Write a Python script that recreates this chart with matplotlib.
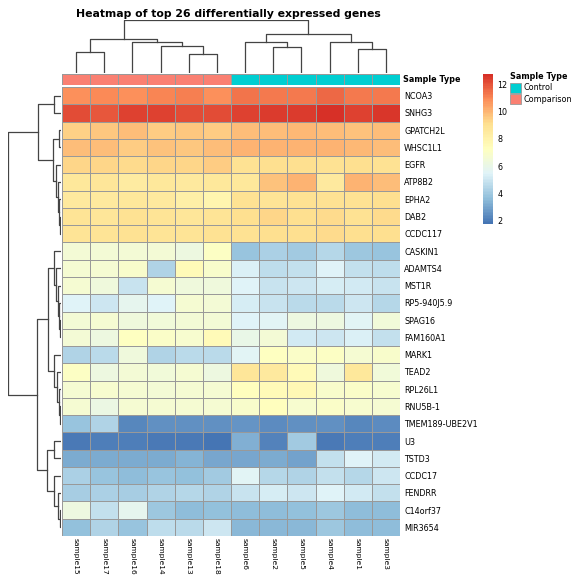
import numpy as np
import matplotlib
matplotlib.use("Agg")
import matplotlib.pyplot as plt
from matplotlib.colors import LinearSegmentedColormap, ListedColormap
from matplotlib.patches import Rectangle

W, H = 574, 578

genes = ["NCOA3", "SNHG3", "GPATCH2L", "WHSC1L1", "EGFR", "ATP8B2", "EPHA2", "DAB2",
         "CCDC117", "CASKIN1", "ADAMTS4", "MST1R", "RP5-940J5.9", "SPAG16", "FAM160A1",
         "MARK1", "TEAD2", "RPL26L1", "RNU5B-1", "TMEM189-UBE2V1", "U3", "TSTD3",
         "CCDC17", "FENDRR", "C14orf37", "MIR3654"]
samples = ["sample15", "sample17", "sample16", "sample14", "sample13", "sample18",
           "sample6", "sample2", "sample5", "sample4", "sample1", "sample3"]
sample_type = ["Comparison"] * 6 + ["Control"] * 6

expr = np.array([
    [10.8, 10.9, 10.8, 11.0, 11.1, 10.8, 11.4, 11.2, 11.2, 11.6, 11.3, 11.3],
    [12.1, 11.9, 12.3, 12.3, 12.1, 12.1, 12.4, 12.5, 12.5, 12.73, 12.4, 12.6],
    [9.4, 9.6, 9.8, 9.5, 9.6, 9.5, 9.8, 9.8, 9.9, 9.8, 9.7, 9.8],
    [9.8, 9.8, 9.5, 9.7, 9.6, 9.8, 10.1, 10.0, 10.1, 10.0, 9.9, 9.8],
    [9.3, 9.3, 9.2, 9.3, 9.3, 9.5, 9.0, 9.1, 9.1, 9.0, 9.1, 9.0],
    [8.6, 8.7, 8.4, 8.6, 8.5, 8.6, 8.6, 9.7, 10.1, 8.5, 10.0, 9.8],
    [8.5, 8.5, 8.6, 8.5, 8.2, 7.9, 9.0, 8.8, 8.9, 9.0, 8.9, 9.1],
    [8.8, 8.7, 8.9, 8.8, 8.7, 8.8, 9.1, 9.3, 9.1, 9.2, 9.0, 9.2],
    [8.8, 8.8, 8.9, 8.8, 8.8, 8.9, 9.0, 9.1, 9.1, 9.2, 9.1, 9.1],
    [6.5, 6.5, 6.5, 6.5, 6.2, 7.1, 3.8, 4.2, 4.0, 4.5, 3.9, 3.8],
    [6.6, 6.6, 6.9, 4.4, 7.5, 6.9, 5.3, 4.7, 4.8, 5.4, 4.8, 4.7],
    [6.7, 6.3, 4.9, 6.7, 6.3, 6.3, 5.4, 4.9, 5.0, 5.2, 5.1, 4.9],
    [5.5, 5.0, 5.8, 5.5, 6.6, 6.5, 5.2, 4.9, 4.6, 4.6, 5.0, 4.5],
    [6.5, 6.6, 6.3, 6.4, 6.5, 6.5, 5.4, 5.6, 6.2, 6.2, 5.6, 6.4],
    [6.5, 6.2, 7.2, 7.0, 6.8, 7.5, 6.0, 6.5, 5.1, 5.0, 5.3, 4.8],
    [4.4, 4.6, 6.3, 4.3, 4.6, 4.6, 5.6, 7.2, 7.0, 7.1, 6.7, 6.9],
    [7.1, 6.2, 6.5, 6.4, 6.6, 6.2, 8.7, 8.5, 7.5, 6.3, 8.6, 6.4],
    [6.6, 6.8, 6.7, 6.5, 6.7, 6.7, 7.3, 7.5, 7.6, 6.9, 7.0, 6.8],
    [6.7, 6.1, 6.7, 6.7, 6.7, 6.6, 6.9, 7.3, 6.8, 7.0, 6.8, 6.6],
    [3.8, 4.3, 2.3, 2.5, 2.5, 2.5, 2.6, 2.4, 2.5, 2.5, 2.3, 2.4],
    [1.9, 2.1, 2.0, 1.9, 1.9, 1.78, 3.3, 2.2, 4.0, 1.9, 2.0, 2.0],
    [3.1, 3.1, 3.1, 3.2, 3.4, 3.0, 3.0, 3.2, 2.9, 4.8, 5.5, 5.1],
    [4.2, 3.8, 3.6, 3.8, 3.7, 4.0, 5.6, 4.5, 4.4, 4.8, 4.5, 5.0],
    [4.1, 4.2, 4.1, 4.4, 4.5, 4.3, 4.9, 5.2, 5.0, 5.4, 5.1, 4.8],
    [6.2, 4.8, 5.8, 3.9, 3.6, 3.7, 3.6, 3.6, 3.7, 3.9, 3.6, 3.6],
    [3.7, 4.3, 3.8, 4.7, 4.6, 5.0, 3.5, 3.5, 3.5, 3.9, 3.6, 3.6],
])

# merges: (left, right, height); leaves are display positions, new clusters get n, n+1, ...
row_merges = [
    (0, 1, 7), (2, 3, 2), (7, 8, 1.5), (6, 28, 2.5), (5, 29, 3.5), (4, 30, 5),
    (27, 31, 8), (26, 32, 22.7),
    (13, 14, 1), (12, 34, 2), (11, 35, 3.5), (10, 36, 5), (9, 37, 7),
    (18, 19, 1.5), (17, 39, 2.5), (16, 40, 4), (15, 41, 7), (38, 42, 12.7),
    (20, 21, 7), (24, 25, 1.5), (23, 45, 3), (22, 46, 7), (44, 47, 13.7),
    (43, 48, 23.7), (33, 49, 53),
]
col_merges = [
    (0, 1, 75), (4, 5, 65), (3, 13, 95), (2, 14, 110), (12, 15, 118),
    (7, 8, 93), (6, 17, 108), (10, 11, 83), (9, 19, 110), (18, 20, 136),
    (16, 21, 186),
]

type_colors = {"Control": "#00CED1", "Comparison": "#FA8072"}
pal = ["#4575B4", "#91BFDB", "#E0F3F8", "#FFFFBF", "#FEE090", "#FC8D59", "#D73027"]
cmap = LinearSegmentedColormap.from_list("rdylbu7", pal, N=100)
border = "#999999"
fs = 5.8


def px_rect(x0, y0, x1, y1):
    return [x0 / W, 1 - y1 / H, (x1 - x0) / W, (y1 - y0) / H]


def draw_dendro(ax, merges, n, vertical=False):
    pos = {i: i + 0.5 for i in range(n)}
    hgt = {i: 0.0 for i in range(n)}
    for k, (a, b, h) in enumerate(merges):
        xs = [pos[a], pos[a], pos[b], pos[b]]
        ys = [hgt[a], h, h, hgt[b]]
        if vertical:
            ax.plot(ys, xs, color="#444444", lw=0.9)
        else:
            ax.plot(xs, ys, color="#444444", lw=0.9)
        pos[n + k] = (pos[a] + pos[b]) / 2
        hgt[n + k] = h


fig = plt.figure(figsize=(W / 100, H / 100), dpi=100)

hx0, hy0, hx1, hy1 = 62, 87, 400, 536
ax = fig.add_axes(px_rect(hx0, hy0, hx1, hy1))
vmin, vmax = expr.min(), expr.max()
ax.pcolormesh(expr, cmap=cmap, vmin=vmin, vmax=vmax, edgecolors=border, linewidth=0.6)
ax.set_xlim(0, len(samples))
ax.set_ylim(len(genes), 0)
ax.set_xticks(np.arange(len(samples)) + 0.5)
ax.set_xticklabels(samples, rotation=-90, fontsize=5.4)
ax.set_yticks(np.arange(len(genes)) + 0.5)
ax.set_yticklabels(genes, fontsize=fs)
ax.yaxis.tick_right()
ax.tick_params(axis="y", length=0, pad=3)
ax.tick_params(axis="x", length=0, pad=1.5)
for s in ax.spines.values():
    s.set_visible(False)

# annotation bar
ann = fig.add_axes(px_rect(hx0, 74, hx1, 85))
codes = np.array([[0 if t == "Comparison" else 1 for t in sample_type]])
ann.pcolormesh(codes, cmap=ListedColormap([type_colors["Comparison"], type_colors["Control"]]),
               vmin=0, vmax=1, edgecolors=border, linewidth=0.6)
ann.set_xlim(0, len(samples))
ann.set_ylim(1, 0)
ann.axis("off")
ann.text(1.01, 0.5, "Sample Type", transform=ann.transAxes, fontsize=fs,
         fontweight="bold", va="center", ha="left")

# dendrograms
dc = fig.add_axes(px_rect(hx0, 20, hx1, 73))
draw_dendro(dc, col_merges, len(samples))
dc.set_xlim(0, len(samples))
dc.set_ylim(0, max(m[2] for m in col_merges))
dc.axis("off")

dr = fig.add_axes(px_rect(8, hy0, 61, hy1))
draw_dendro(dr, row_merges, len(genes), vertical=True)
dr.set_ylim(len(genes), 0)
dr.set_xlim(max(m[2] for m in row_merges), 0)
dr.axis("off")

fig.text(228 / W, 1 - 14 / H, "Heatmap of top 26 differentially expressed genes",
         ha="center", va="center", fontsize=7.8, fontweight="bold")

# colorbar
cax = fig.add_axes(px_rect(483, 74, 493, 224))
sm = plt.cm.ScalarMappable(cmap=cmap, norm=plt.Normalize(vmin, vmax))
cb = fig.colorbar(sm, cax=cax)
cb.outline.set_visible(False)
cb.set_ticks([2, 4, 6, 8, 10, 12])
cax.tick_params(length=0, labelsize=fs, pad=3)

# legend for annotation
lx, ly = 510, 77
fig.text(lx / W, 1 - ly / H, "Sample Type", fontsize=fs, fontweight="bold", va="center")
for i, t in enumerate(["Control", "Comparison"]):
    y0 = 83 + i * 11
    fig.patches.append(Rectangle((lx / W, 1 - (y0 + 10) / H), 11 / W, 10 / H,
                                 transform=fig.transFigure, facecolor=type_colors[t],
                                 edgecolor=border, linewidth=0.6))
    fig.text((lx + 14) / W, 1 - (y0 + 5) / H, t, fontsize=fs, va="center")

fig.savefig("out.png", dpi=100)
